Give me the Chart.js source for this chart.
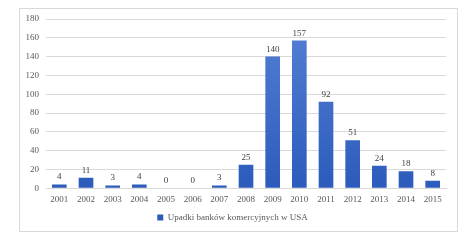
<!DOCTYPE html>
<html>
<head>
<meta charset="utf-8">
<script src="https://cdn.jsdelivr.net/npm/chart.js@4"></script>
<style>
    html, body { margin: 0; padding: 0; background: #fff; }
    #wrap { position: relative; width: 474px; height: 242px; }
    #frame { position: absolute; left: 19px; top: 8px; width: 437px; height: 222px; border: 1px solid #d9d9d9; }
    canvas { position: absolute; left: 0; top: 0; }
</style>
</head>
<body>
<div id="wrap">
    <div id="frame"></div>
    <canvas id="chart" width="474" height="242"></canvas>
</div>
<script>
const years = ['2001', '2002', '2003', '2004', '2005', '2006', '2007', '2008', '2009', '2010', '2011', '2012', '2013', '2014', '2015'];
const failures = [4, 11, 3, 4, 0, 0, 3, 25, 140, 157, 92, 51, 24, 18, 8];
const seriesLabel = 'Upadki banków komercyjnych w USA';

const FONT = 'Liberation Serif, Times New Roman, serif';
const FONT_SIZE = 9;

// value labels above bars
const valueLabels = {
    id: 'valueLabels',
    afterDatasetsDraw(chart) {
        const ctx = chart.ctx;
        const meta = chart.getDatasetMeta(0);
        ctx.save();
        ctx.font = FONT_SIZE + 'px ' + FONT;
        ctx.fillStyle = '#404040';
        ctx.textAlign = 'center';
        ctx.textBaseline = 'alphabetic';
        meta.data.forEach((bar, i) => {
            ctx.fillText(String(failures[i]), bar.x, bar.y - 5);
        });
        ctx.restore();
    }
};

function barFill(context) {
    const chart = context.chart;
    const area = chart.chartArea;
    if (!area) return '#4472c4';
    const g = chart.ctx.createLinearGradient(0, area.top, 0, area.bottom);
    g.addColorStop(0, '#5580d4');
    g.addColorStop(1, '#2c5bbc');
    return g;
}

new Chart(document.getElementById('chart'), {
    type: 'bar',
    data: {
        labels: years,
        datasets: [{
            label: seriesLabel,
            data: failures,
            backgroundColor: barFill,
            borderWidth: 0,
            categoryPercentage: 1,
            barPercentage: 0.55,
        }]
    },
    plugins: [valueLabels],
    options: {
        responsive: false,
        animation: false,
        layout: { padding: { left: 19, right: 28, top: 19, bottom: 10 } },
        plugins: {
            tooltip: { enabled: false },
            legend: {
                position: 'bottom',
                labels: {
                    font: { family: FONT, size: FONT_SIZE },
                    color: '#595959',
                    boxWidth: 6,
                    boxHeight: 6,
                    padding: 2,
                }
            }
        },
        scales: {
            x: {
                grid: { display: false, drawTicks: false },
                border: { display: true, color: '#d9d9d9' },
                ticks: { font: { family: FONT, size: FONT_SIZE }, color: '#595959', maxRotation: 0, autoSkip: false, padding: 6 }
            },
            y: {
                min: 0,
                max: 180,
                afterFit: s => { s.width = 27; },
                grid: { color: '#d9d9d9', drawTicks: false },
                border: { display: false },
                ticks: { stepSize: 20, font: { family: FONT, size: FONT_SIZE }, color: '#595959', padding: 7 }
            }
        }
    }
});
</script>
</body>
</html>
